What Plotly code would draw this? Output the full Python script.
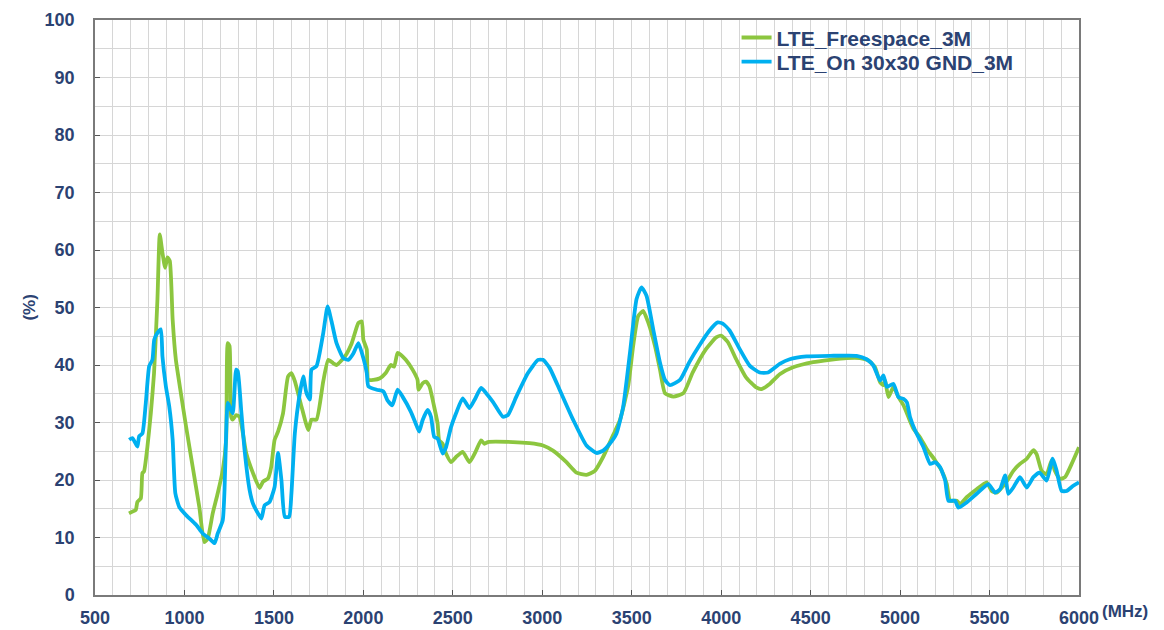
import plotly.graph_objects as go

# ---- data (MHz, %) ----
free_x = [690, 709, 728, 737, 756, 765, 774, 793, 812, 830, 849, 862, 877, 892, 905, 918, 934, 952, 980, 1009,
          1046, 1083, 1111, 1130, 1158, 1186, 1214, 1233, 1242, 1252, 1261, 1270, 1289, 1308, 1345, 1383, 1420,
          1439, 1467, 1485, 1504, 1523, 1551, 1579, 1598, 1617, 1654, 1692, 1710, 1738, 1776, 1804, 1832, 1850,
          1897, 1935, 1972, 1991, 2000, 2019, 2028, 2056, 2093, 2125, 2153, 2172, 2191, 2209, 2237, 2275, 2303,
          2308, 2331, 2350, 2369, 2396, 2415, 2424, 2443, 2462, 2490, 2518, 2555, 2593, 2630, 2658, 2677, 2696,
          2836, 2929, 3004, 3060, 3135, 3191, 3247, 3294, 3340, 3396, 3434, 3480, 3508, 3536, 3564, 3592, 3630,
          3658, 3686, 3733, 3789, 3841, 3916, 3972, 4000, 4037, 4084, 4140, 4196, 4224, 4271, 4327, 4402, 4514,
          4608, 4701, 4776, 4823, 4860, 4888, 4907, 4916, 4935, 4963, 4991, 5019, 5047, 5075, 5112, 5149, 5196,
          5233, 5261, 5279, 5317, 5335, 5372, 5428, 5484, 5512, 5540, 5577, 5605, 5633, 5670, 5708, 5745, 5763,
          5791, 5819, 5847, 5865, 5894, 5922, 5959, 6000]
free_y = [14.2, 14.5, 14.8, 16.2, 16.8, 21.2, 21.5, 25.8, 31.6, 38.6, 51.4, 62.7, 59.5, 56.9, 58.7, 58.1, 47.9,
          40.9, 35.1, 29.3, 22.3, 15.3, 9.2, 9.8, 14.2, 17.7, 21.7, 27.0, 43.8, 43.3, 31.0, 30.5, 31.3, 31.0, 24.7,
          21.2, 18.6, 19.7, 20.3, 22.3, 27.0, 28.4, 31.6, 38.0, 38.6, 37.2, 32.8, 28.7, 30.5, 30.5, 37.2, 40.9,
          40.3, 40.0, 41.5, 43.8, 47.3, 47.6, 44.4, 42.7, 37.4, 37.4, 37.7, 38.6, 40.0, 39.7, 42.1, 41.8, 40.9,
          39.2, 37.4, 35.7, 36.8, 37.1, 36.3, 32.7, 29.8, 26.9, 26.3, 24.6, 23.1, 24.0, 24.9, 23.1, 25.1, 26.9,
          26.3, 26.6, 26.6, 26.4, 26.0, 25.1, 23.1, 21.3, 20.9, 21.6, 24.0, 27.8, 30.4, 36.3, 43.3, 48.5, 49.4,
          47.4, 43.3, 39.2, 35.1, 34.5, 35.1, 38.7, 42.8, 44.8, 45.1, 44.0, 41.0, 37.8, 36.1, 35.8, 36.7, 38.4,
          39.6, 40.5, 40.9, 41.2, 41.2, 40.8, 39.6, 37.0, 36.5, 37.3, 34.4, 36.2, 34.4, 33.0, 30.9, 28.9, 27.4,
          25.4, 23.4, 21.6, 19.3, 16.4, 16.4, 15.8, 17.0, 18.4, 19.6, 18.1, 17.8, 19.0, 20.2, 21.6, 22.8, 23.7,
          25.2, 24.5, 21.6, 21.0, 23.4, 21.6, 20.2, 20.5, 22.8, 25.7]

gnd_x = [691, 709, 737, 747, 765, 784, 803, 821, 831, 849, 868, 877, 896, 915, 934, 949, 971, 1009, 1065, 1102,
         1140, 1168, 1186, 1214, 1224, 1233, 1242, 1252, 1270, 1289, 1298, 1317, 1336, 1364, 1383, 1411, 1430,
         1448, 1476, 1504, 1523, 1542, 1561, 1585, 1598, 1617, 1645, 1664, 1682, 1701, 1710, 1738, 1776, 1800,
         1822, 1850, 1888, 1916, 1944, 1972, 2000, 2019, 2028, 2075, 2112, 2134, 2162, 2191, 2219, 2265, 2293,
         2312, 2331, 2359, 2378, 2396, 2415, 2443, 2462, 2490, 2518, 2555, 2593, 2621, 2658, 2686, 2724, 2780,
         2808, 2855, 2920, 2976, 3004, 3041, 3097, 3172, 3247, 3303, 3340, 3377, 3415, 3452, 3490, 3527, 3555,
         3583, 3620, 3658, 3686, 3714, 3770, 3822, 3878, 3935, 3981, 4009, 4047, 4103, 4159, 4215, 4262, 4327,
         4383, 4477, 4608, 4757, 4813, 4851, 4888, 4907, 4926, 4963, 4991, 5019, 5038, 5056, 5084, 5131, 5168,
         5196, 5224, 5252, 5270, 5307, 5326, 5372, 5428, 5494, 5531, 5559, 5587, 5605, 5633, 5670, 5708, 5745,
         5779, 5819, 5853, 5875, 5903, 5931, 5968, 6000]
gnd_y = [27.0, 27.3, 25.8, 27.6, 28.1, 33.4, 39.8, 40.9, 44.4, 45.6, 46.2, 41.5, 36.3, 32.8, 27.0, 17.7, 15.3,
         13.9, 12.2, 10.7, 9.8, 9.0, 10.7, 13.0, 18.3, 28.1, 33.4, 32.8, 31.6, 39.2, 38.9, 32.2, 25.2, 18.3, 15.9,
         14.2, 13.3, 15.6, 16.2, 18.8, 24.7, 20.0, 13.6, 13.6, 17.7, 28.1, 35.1, 38.0, 35.1, 34.0, 39.2, 39.8,
         45.6, 50.2, 47.6, 43.8, 41.2, 40.9, 42.0, 43.8, 41.2, 38.6, 36.3, 35.7, 35.4, 33.9, 33.0, 35.7, 34.5,
         31.9, 29.8, 28.4, 30.4, 32.2, 31.0, 27.5, 27.2, 24.6, 25.7, 29.2, 31.6, 34.2, 32.5, 33.9, 36.0, 35.1,
         33.6, 31.0, 31.3, 34.5, 38.6, 40.9, 40.9, 39.5, 35.7, 30.5, 26.0, 24.7, 25.1, 26.3, 28.1, 32.7, 42.1,
         51.5, 53.5, 52.0, 46.2, 40.4, 37.4, 36.5, 37.4, 40.5, 43.4, 46.0, 47.4, 47.2, 46.0, 42.8, 39.9, 38.7,
         38.7, 40.2, 41.0, 41.5, 41.6, 41.6, 41.0, 39.9, 37.3, 38.2, 36.2, 36.7, 34.4, 34.1, 33.5, 30.9, 28.6,
         25.7, 22.8, 23.1, 22.2, 19.9, 16.4, 16.4, 15.2, 16.1, 17.6, 19.3, 17.8, 18.4, 20.8, 17.6, 18.7, 20.5,
         18.7, 20.5, 21.3, 19.9, 23.7, 21.6, 18.1, 18.1, 19.0, 19.6]

series_names = ["LTE_Freespace_3M", "LTE_On 30x30 GND_3M"]
series_colors = ["#8cc63f", "#00b0f0"]
x_ticks = [500, 1000, 1500, 2000, 2500, 3000, 3500, 4000, 4500, 5000, 5500, 6000]
y_ticks = [0, 10, 20, 30, 40, 50, 60, 70, 80, 90, 100]

TXT = "#2b4272"
FONT = "Liberation Sans, Arial, sans-serif"

fig = go.Figure()
for xs, ys, name, col, lg in [(free_x, free_y, series_names[0], series_colors[0], "legend"),
                              (gnd_x, gnd_y, series_names[1], series_colors[1], "legend2")]:
    fig.add_trace(go.Scatter(x=xs, y=ys, mode="lines", name=name, legend=lg,
                             line=dict(color=col, width=3.8, shape="spline", smoothing=0.5)))

grid_col = "#d6d6d6"
fig.update_xaxes(range=[500, 6000], tickvals=x_ticks, showgrid=True, gridcolor=grid_col, gridwidth=1.3,
                 minor=dict(dtick=100, tick0=500, showgrid=True, gridcolor=grid_col, gridwidth=1.3),
                 showline=True, linecolor="#7a7a7a", linewidth=1.5, mirror=True,
                 ticks="inside", ticklen=5, tickcolor="#555555", tickwidth=1.3,
                 tickfont=dict(family=FONT, size=18, color=TXT, weight="bold"),
                 zeroline=False, ticklabelstandoff=6, automargin=False)
fig.update_yaxes(range=[0, 100], tickvals=y_ticks, showgrid=True, gridcolor=grid_col, gridwidth=1.3,
                 minor=dict(dtick=5, tick0=0, showgrid=True, gridcolor=grid_col, gridwidth=1.3),
                 showline=True, linecolor="#7a7a7a", linewidth=1.5, mirror=True,
                 ticks="inside", ticklen=5, tickcolor="#555555", tickwidth=1.3,
                 tickfont=dict(family=FONT, size=18, color=TXT, weight="bold"),
                 zeroline=False, ticklabelstandoff=15, automargin=False)

# white box behind legend
fig.add_shape(type="rect", xref="x domain", yref="y domain", x0=0.603, x1=1.0, y0=0.903, y1=0.992,
              fillcolor="white", line=dict(width=0), layer="below")

fig.add_annotation(text="(%)", xref="paper", yref="paper", x=-0.067, y=0.5, xanchor="center", yanchor="middle",
                   textangle=-90, showarrow=False,
                   font=dict(family=FONT, size=17, color=TXT, weight="bold"))
fig.add_annotation(text="(MHz)", xref="paper", yref="paper", x=1.0, y=0, xanchor="left", yanchor="top",
                   xshift=21, yshift=-5, showarrow=False,
                   font=dict(family=FONT, size=17, color=TXT, weight="bold"))

leg_common = dict(xanchor="left", yanchor="middle", bgcolor="rgba(0,0,0,0)",
                  font=dict(family=FONT, size=21, color=TXT, weight="bold"), itemwidth=30)

fig.update_layout(
    width=1164, height=630,
    margin=dict(l=87, r=93, t=12, b=43, autoexpand=False),
    paper_bgcolor="white", plot_bgcolor="white",
    showlegend=True,
    legend=dict(x=0.652, y=0.969, **leg_common),
    legend2=dict(x=0.652, y=0.927, **leg_common),
)

fig.write_html("out.html")
